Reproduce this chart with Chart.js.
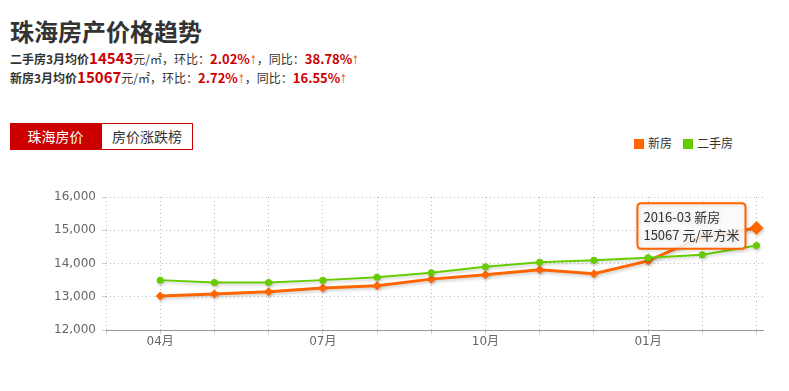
<!DOCTYPE html>
<html><head><meta charset="utf-8">
<script src="https://cdn.jsdelivr.net/npm/chart.js@4"></script>
<style>
html,body{margin:0;padding:0;background:#fff;width:789px;height:391px;overflow:hidden;font-family:"Noto Sans CJK SC",sans-serif;color:#333;}
#title{position:absolute;left:10px;top:17px;font-size:24px;font-weight:bold;line-height:28px;white-space:nowrap;}
.sum{position:absolute;left:10px;font-size:12px;line-height:20px;white-space:nowrap;}
.sum .lab{font-weight:bold}
.sum .big{color:#c00;font-size:15px;font-weight:bold}
.sum .red{color:#c00;font-weight:bold;font-size:13px}
.sum .arr{color:#e8590c;font-family:"DejaVu Sans",sans-serif;font-size:12px;display:inline-block;width:7px;transform:scaleX(0.65);transform-origin:left center;}
.tab{position:absolute;top:123px;height:27px;line-height:27px;font-size:14px;text-align:center;box-sizing:border-box;}
#tab1{left:10px;width:91px;background:#cc0000;color:#fff;}
#tab2{left:101px;width:92px;border:1px solid #cc0000;color:#333;background:#fff;line-height:25px;}
#legend{position:absolute;top:134px;left:634px;font-size:12px;line-height:18px;white-space:nowrap;}
#legend span.box{display:inline-block;width:10px;height:10px;vertical-align:-1px;margin-right:4px;}
#legend span.item{margin-right:11px;}
#wrap{position:absolute;left:0;top:160px;width:789px;height:231px;}
</style>
</head><body>
<div id="title">珠海房产价格趋势</div>
<div class="sum" id="s0" style="top:48px"></div>
<div class="sum" id="s1" style="top:67px"></div>
<div class="tab" id="tab1">珠海房价</div>
<div class="tab" id="tab2">房价涨跌榜</div>
<div id="legend"></div>
<div id="wrap"><canvas id="c" width="789" height="231"></canvas></div>
<script>
const months = ['2015-04','2015-05','2015-06','2015-07','2015-08','2015-09','2015-10','2015-11','2015-12','2016-01','2016-02','2016-03'];
const xTickLabels = ['04月','','','07月','','','10月','','','01月','',''];
const seriesNames = ['新房','二手房'];
const seriesColors = ['#ff6600','#66cc00'];
const newHouse = [13020,13080,13150,13260,13330,13530,13660,13810,13690,14080,14800,15067];
const secondHand = [13500,13430,13430,13500,13590,13720,13900,14040,14100,14175,14265,14543];
const yMin = 12000, yMax = 16000, yStep = 1000;

const summaryNames = ['二手房','新房'];
const summaryMonth = '3月';
const summaryPrice = [14543,15067];
const summaryMoM = ['2.02%','2.72%'];
const summaryYoY = ['38.78%','16.55%'];

summaryNames.forEach((n,i)=>{
  document.getElementById('s'+i).innerHTML =
    '<span class="lab">'+n+summaryMonth+'均价</span><span class="big">'+summaryPrice[i]+'</span>元/㎡，环比：<span class="red">'+summaryMoM[i]+'</span><span class="arr">↑</span>，同比：<span class="red">'+summaryYoY[i]+'</span><span class="arr">↑</span>';
});
document.getElementById('legend').innerHTML = seriesNames.map((n,i)=>
  '<span class="item"><span class="box" style="background:'+seriesColors[i]+'"></span>'+n+'</span>').join('');

const shadowPlugin = {
  id:'shadow',
  beforeDatasetDraw(chart){ const c=chart.ctx; c.save(); c.shadowColor='rgba(0,0,0,0.18)'; c.shadowBlur=3; c.shadowOffsetX=1; c.shadowOffsetY=2; },
  afterDatasetDraw(chart){ chart.ctx.restore(); },
  beforeTooltipDraw(chart){ const c=chart.ctx; c.save(); c.shadowColor='rgba(0,0,0,0.15)'; c.shadowBlur=4; c.shadowOffsetX=1; c.shadowOffsetY=1; },
  afterTooltipDraw(chart){ chart.ctx.restore(); }
};

if (Chart.Tooltip && Chart.Tooltip.positioners) {
  Chart.Tooltip.positioners.pointLeft = function(items){
    if (!items.length) return false;
    const el = items[0].element;
    return {x: el.x, y: el.y - 2};
  };
}

const FONT = '"DejaVu Sans","Noto Sans CJK SC",sans-serif';
const lastIdx = months.length - 1;
const chart = new Chart(document.getElementById('c'), {
  type:'line',
  data:{
    datasets:[
      {label:seriesNames[0], data:newHouse.map((v,i)=>({x:i,y:v})), borderColor:seriesColors[0], backgroundColor:seriesColors[0],
       borderWidth:3, tension:0, pointStyle:'rectRot', pointRadius:c=>c.dataIndex===lastIdx?7:4.5, pointHoverRadius:7,
       pointBorderWidth:0, pointBackgroundColor:seriesColors[0], pointHoverBackgroundColor:seriesColors[0], order:1, clip:false},
      {label:seriesNames[1], data:secondHand.map((v,i)=>({x:i,y:v})), borderColor:seriesColors[1], backgroundColor:seriesColors[1],
       borderWidth:2, tension:0, pointStyle:'circle', pointRadius:3.5, pointHoverRadius:3.5,
       pointBorderWidth:0, pointBackgroundColor:seriesColors[1], order:0, clip:false}
    ]
  },
  options:{
    responsive:false, animation:false, devicePixelRatio:1,
    layout:{padding:{left:0, top:37, right:26, bottom:41}},
    events:[],
    plugins:{
      legend:{display:false},
      tooltip:{
        enabled:true, animation:false,
        position:(Chart.Tooltip && Chart.Tooltip.positioners && Chart.Tooltip.positioners.pointLeft)?'pointLeft':'nearest',
        xAlign:'right', yAlign:'center', caretSize:0, caretPadding:11,
        backgroundColor:'rgba(255,255,255,0.88)', borderColor:'#ff6600', borderWidth:2, cornerRadius:4,
        padding:{left:6,right:6,top:6,bottom:6}, displayColors:false,
        titleColor:'#333', bodyColor:'#333', titleMarginBottom:2.5,
        titleFont:{family:'"Noto Sans CJK SC",sans-serif', size:13, weight:'normal'},
        bodyFont:{family:'"Noto Sans CJK SC",sans-serif', size:13, weight:'normal'},
        callbacks:{
          title:items=>months[items[0].dataIndex]+' '+seriesNames[items[0].datasetIndex],
          label:item=>item.parsed.y+' 元/平方米'
        }
      }
    },
    scales:{
      x:{
        type:'linear', min:-1, max:11.12,
        afterBuildTicks:s=>{ s.ticks = [-1].concat(months.map((m,i)=>i)).map(v=>({value:v})); },
        afterFit:s=>{ s.height = 20; },
        ticks:{autoSkip:false, maxRotation:0, padding:1, color:'#666', font:{family:FONT, size:12},
          callback:v=> (v>=0 && v<xTickLabels.length) ? xTickLabels[v] : ''},
        grid:{color:'#bbb', drawTicks:true, tickLength:4, tickColor:'#C0D0E0'},
        border:{display:true, color:'#999', width:1, dash:[1,3]}
      },
      y:{
        min:yMin, max:yMax,
        afterFit:s=>{ s.width = 106; },
        ticks:{stepSize:yStep, padding:6, color:'#666', font:{family:FONT, size:12},
          callback:v=>Number(v).toLocaleString('en-US')},
        grid:{color:'#bbb', drawTicks:true, tickLength:4, tickColor:'#C0D0E0'},
        border:{display:false, dash:[1,3]}
      }
    }
  },
  plugins:[shadowPlugin]
});
const el = chart.getDatasetMeta(0).data[lastIdx];
chart.tooltip.setActiveElements([{datasetIndex:0, index:lastIdx}], {x:el.x, y:el.y});
chart.update();
</script>
</body></html>
